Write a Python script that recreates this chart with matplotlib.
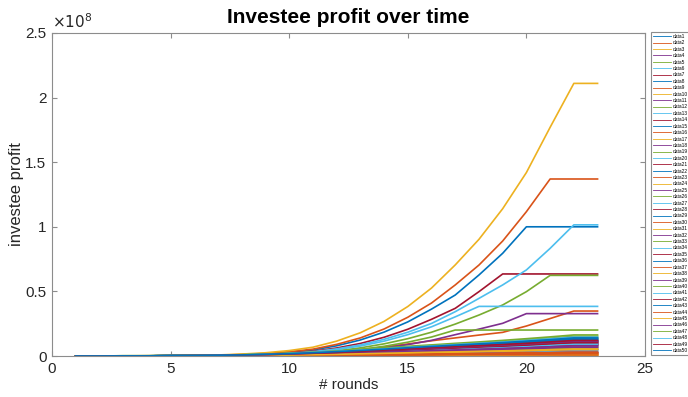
import matplotlib
matplotlib.use("Agg")
import matplotlib.pyplot as plt
from matplotlib.ticker import FuncFormatter

plt.rcParams['font.family'] = ['Liberation Sans', 'DejaVu Sans']

# profit per round, in millions
rounds = list(range(1, 24))

d01 = [0, 0, .1, .1, .2, .2, .3, .5, .7, 1.1, 1.5, 2.0, 2.5, 3.1, 3.8, 4.3, 4.9, 5.5, 6.1, 6.7, 7.5, 8.2, 8.2]
d02 = [.01, .02, .03, .05, .08, .13, .2, .4, .7, 1.3, 2.2, 3.5, 5.0, 7.0, 9.3, 11.8, 14.0, 16.2, 18.3, 23.2, 29, 34.8, 34.8]
d03 = [0, 0, 0, 0, 0, 0, 0, 0, 0, .1, .1, .1, .2, .2, .2, .3, .3, .3, .4, .4, .5, .5, .5]
d04 = [.01, .02, .03, .05, .07, .11, .18, .35, .6, 1.0, 1.6, 2.6, 4.1, 6.2, 8.8, 12.1, 16.5, 20.8, 25.3, 32.8, 32.8, 32.8, 32.8]
d05 = [0, 0, .1, .1, .1, .2, .2, .4, .6, .8, 1.1, 1.5, 1.9, 2.4, 2.9, 3.3, 3.7, 4.2, 4.6, 5.1, 5.6, 6.2, 6.2]
d06 = [0, 0, 0, 0, .1, .1, .2, .2, .3, .5, .7, .9, 1.2, 1.4, 1.7, 2.0, 2.3, 2.5, 2.8, 3.1, 3.5, 3.8, 3.8]
d07 = [0, 0, .1, .1, .2, .3, .3, .5, .8, 1.1, 1.5, 2.1, 2.7, 3.3, 4.0, 4.6, 5.2, 5.8, 6.4, 7.1, 7.8, 8.6, 8.6]
d08 = [.03, .06, .08, .14, .22, .35, .55, 1.0, 1.7, 2.9, 4.7, 7.9, 12.4, 18.5, 26.4, 36.3, 47.2, 62.7, 79.5, 100, 100, 100, 100]
d09 = [0, 0, 0, 0, 0, 0, 0, 0, .1, .1, .1, .1, .2, .2, .3, .3, .4, .4, .4, .5, .5, .6, .6]
d10 = [0, 0, 0, 0, 0, 0, 0, .1, .1, .1, .2, .2, .3, .3, .4, .5, .5, .6, .7, .7, .8, .9, .9]
d11 = [0, 0, 0, 0, 0, .1, .1, .1, .2, .3, .4, .5, .7, .8, 1.0, 1.2, 1.3, 1.5, 1.6, 1.8, 2.0, 2.2, 2.2]
d12 = [.01, .02, .03, .06, .09, .14, .22, .4, .7, 1.2, 1.9, 3.2, 5.0, 7.5, 10.7, 14.7, 20.1, 20.1, 20.1, 20.1, 20.1, 20.1, 20.1]
d13 = [0, 0, 0, 0, .1, .1, .2, .3, .4, .6, .9, 1.2, 1.5, 1.8, 2.2, 2.5, 2.9, 3.2, 3.6, 3.9, 4.4, 4.8, 4.8]
d14 = [.03, .04, .06, .11, .17, .27, .43, .8, 1.35, 2.3, 3.7, 6.2, 9.7, 14.5, 20.7, 28.4, 36.9, 49.8, 63.5, 63.5, 63.5, 63.5, 63.5]
d15 = [0, 0, .1, .1, .2, .3, .4, .6, .9, 1.3, 1.8, 2.4, 3.0, 3.7, 4.5, 5.2, 5.9, 6.6, 7.3, 8.0, 8.9, 9.8, 9.8]
d16 = [0, 0, 0, 0, 0, 0, 0, .1, .1, .1, .2, .2, .3, .4, .5, .5, .6, .7, .7, .8, .9, 1.0, 1.0]
d17 = [0, 0, 0, 0, 0, 0, .1, .1, .1, .2, .3, .3, .4, .5, .6, .7, .8, .9, 1.0, 1.1, 1.3, 1.4, 1.4]
d18 = [0, 0, .1, .1, .1, .2, .2, .3, .5, .7, .9, 1.2, 1.6, 1.9, 2.3, 2.7, 3.0, 3.4, 3.7, 4.1, 4.6, 5.0, 5.0]
d19 = [0, 0, .1, .1, .1, .2, .3, .4, .6, .9, 1.3, 1.7, 2.2, 2.7, 3.2, 3.7, 4.2, 4.7, 5.2, 5.7, 6.4, 7.0, 7.0]
d20 = [.02, .04, .06, .1, .15, .24, .38, .7, 1.2, 2.0, 3.3, 5.5, 8.6, 12.9, 18.4, 25.2, 34.3, 44.6, 55, 66.6, 83.3, 101.5, 101.5]
d21 = [0, 0, .1, .1, .2, .3, .4, .5, .8, 1.2, 1.6, 2.2, 2.8, 3.4, 4.1, 4.8, 5.4, 6.0, 6.7, 7.4, 8.2, 9.0, 9.0]
d22 = [0, 0, .1, .1, .2, .3, .4, .6, 1.0, 1.4, 1.9, 2.6, 3.3, 4.1, 5.0, 5.7, 6.5, 7.2, 8.0, 8.9, 9.8, 10.8, 10.8]
d23 = [.04, .06, .09, .16, .25, .4, .6, 1.2, 2.0, 3.3, 5.3, 9.0, 14, 20.9, 30, 41, 55, 70.4, 89, 111.7, 137, 137, 137]
d24 = [0, 0, 0, 0, 0, .1, .1, .1, .2, .3, .4, .5, .6, .8, .9, 1.1, 1.2, 1.3, 1.5, 1.6, 1.8, 2.0, 2.0]
d25 = [0, 0, 0, 0, .1, .1, .1, .2, .3, .4, .5, .7, .9, 1.1, 1.3, 1.5, 1.7, 1.9, 2.1, 2.3, 2.5, 2.8, 2.8]
d26 = [0, 0, .1, .1, .3, .4, .6, .8, 1.2, 1.8, 2.5, 3.3, 4.3, 5.2, 6.3, 7.3, 8.3, 9.2, 10.2, 11.3, 12.6, 13.8, 13.8]
d27 = [0, 0, .1, .1, .2, .4, .5, .7, 1.1, 1.6, 2.2, 2.9, 3.8, 4.6, 5.6, 6.5, 7.3, 8.2, 9.0, 10.0, 11.1, 12.2, 12.2]
d28 = [0, 0, .1, .1, .2, .3, .4, .6, .9, 1.2, 1.7, 2.3, 3.0, 3.6, 4.4, 5.1, 5.8, 6.4, 7.1, 7.9, 8.7, 9.6, 9.6]
d29 = [0, 0, .1, .1, .2, .4, .5, .7, 1.1, 1.5, 2.1, 2.8, 3.7, 4.5, 5.4, 6.3, 7.1, 7.9, 8.7, 9.7, 10.7, 11.8, 11.8]
d30 = [0, 0, 0, 0, 0, 0, .1, .1, .1, .2, .3, .4, .5, .6, .7, .8, 1.0, 1.1, 1.2, 1.3, 1.5, 1.6, 1.6]
d31 = [0, 0, .1, .1, .1, .2, .2, .3, .5, .7, .9, 1.2, 1.6, 1.9, 2.3, 2.7, 3.0, 3.4, 3.7, 4.1, 4.6, 5.0, 5.0]
d32 = [0, 0, .1, .1, .1, .2, .3, .4, .6, .9, 1.2, 1.6, 2.1, 2.6, 3.1, 3.6, 4.1, 4.6, 5.0, 5.6, 6.2, 6.8, 6.8]
d33 = [.02, .03, .04, .07, .11, .18, .28, .5, .9, 1.5, 2.4, 4.0, 6.3, 9.4, 13.4, 18.4, 24.7, 31.7, 39.5, 49.8, 62.4, 62.4, 62.4]
d34 = [0, 0, .1, .1, .2, .3, .4, .6, .8, 1.2, 1.7, 2.2, 2.9, 3.5, 4.2, 4.9, 5.5, 6.2, 6.8, 7.5, 8.4, 9.2, 9.2]
d35 = [0, 0, .1, .1, .2, .3, .4, .6, .9, 1.4, 1.9, 2.5, 3.2, 4.0, 4.8, 5.5, 6.2, 7.0, 7.7, 8.5, 9.5, 10.4, 10.4]
d36 = [0, 0, .1, .1, .3, .4, .5, .8, 1.1, 1.6, 2.3, 3.0, 3.9, 4.8, 5.8, 6.7, 7.6, 8.4, 9.3, 10.3, 11.5, 12.6, 12.6]
d37 = [0, 0, 0, 0, 0, .1, .1, .1, .2, .3, .4, .6, .7, .9, 1.1, 1.3, 1.4, 1.6, 1.8, 2.0, 2.2, 2.4, 2.4]
d38 = [.05, .08, .12, .2, .32, .5, .8, 1.5, 2.5, 4.2, 6.8, 11.5, 18, 26.8, 38.3, 52.6, 70.5, 90.3, 114, 142, 177, 211, 211]
d39 = [0, 0, .1, .1, .2, .2, .3, .5, .7, 1.0, 1.4, 1.9, 2.4, 3.0, 3.6, 4.1, 4.7, 5.2, 5.8, 6.4, 7.1, 7.8, 7.8]
d40 = [0, 0, .2, .2, .3, .5, .6, .9, 1.4, 2.0, 2.7, 3.6, 4.7, 5.8, 7.0, 8.1, 9.1, 10.2, 11.2, 12.5, 13.8, 15.2, 15.2]
d41 = [.02, .03, .05, .09, .14, .22, .34, .65, 1.1, 1.8, 2.9, 4.9, 7.7, 11.5, 16.5, 22.6, 30.3, 38.4, 38.4, 38.4, 38.4, 38.4, 38.4]
d42 = [0, 0, .1, .1, .2, .3, .4, .7, 1.0, 1.4, 2.0, 2.6, 3.4, 4.2, 5.1, 5.8, 6.6, 7.4, 8.1, 9.0, 10.0, 11.0, 11.0]
d43 = [0, 0, .1, .1, .3, .4, .5, .8, 1.2, 1.7, 2.4, 3.2, 4.1, 5.0, 6.1, 7.0, 7.9, 8.8, 9.8, 10.8, 12.0, 13.2, 13.2]
d44 = [0, 0, 0, 0, .1, .1, .1, .2, .3, .4, .5, .7, .9, 1.1, 1.4, 1.6, 1.8, 2.0, 2.2, 2.5, 2.7, 3.0, 3.0]
d45 = [0, 0, .1, .1, .1, .2, .2, .3, .5, .7, 1.0, 1.3, 1.7, 2.1, 2.5, 2.9, 3.2, 3.6, 4.0, 4.4, 4.9, 5.4, 5.4]
d46 = [0, 0, .1, .1, .2, .3, .5, .7, 1.0, 1.5, 2.1, 2.7, 3.5, 4.3, 5.2, 6.0, 6.8, 7.6, 8.4, 9.3, 10.4, 11.4, 11.4]
d47 = [0, 0, .2, .2, .3, .5, .7, 1.0, 1.5, 2.1, 2.9, 3.9, 5.1, 6.2, 7.5, 8.6, 9.8, 10.9, 12.1, 13.4, 14.8, 16.3, 16.3]
d48 = [0, 0, .1, .1, .3, .4, .6, .9, 1.3, 1.9, 2.6, 3.5, 4.5, 5.5, 6.7, 7.7, 8.8, 9.8, 10.8, 12.0, 13.3, 14.6, 14.6]
d49 = [0, 0, .1, .1, .2, .4, .5, .7, 1.1, 1.6, 2.2, 2.9, 3.7, 4.6, 5.5, 6.4, 7.2, 8.0, 8.9, 9.8, 10.9, 12.0, 12.0]
d50 = [0, 0, .1, .1, .3, .4, .6, .8, 1.3, 1.8, 2.5, 3.4, 4.3, 5.3, 6.4, 7.4, 8.4, 9.4, 10.4, 11.5, 12.7, 14.0, 14.0]

series = [d01, d02, d03, d04, d05, d06, d07, d08, d09, d10,
          d11, d12, d13, d14, d15, d16, d17, d18, d19, d20,
          d21, d22, d23, d24, d25, d26, d27, d28, d29, d30,
          d31, d32, d33, d34, d35, d36, d37, d38, d39, d40,
          d41, d42, d43, d44, d45, d46, d47, d48, d49, d50]

# matlab default line colour order
colors = ['#0072BD', '#D95319', '#EDB120', '#7E2F8E', '#77AC30', '#4DBEEE', '#A2142F']

fig = plt.figure(figsize=(6.88, 3.97), dpi=100)
ax = fig.add_axes([52 / 688, 41 / 397, 593 / 688, 323 / 397])

for i, s in enumerate(series):
    ax.plot(rounds, [v * 1e6 for v in s], color=colors[i % 7], lw=1.2,
            label='data%d' % (i + 1))

ax.set_xlim(0, 25)
ax.set_ylim(0, 2.5e8)
ax.set_xticks([0, 5, 10, 15, 20, 25])
ax.set_yticks([0, 0.5e8, 1e8, 1.5e8, 2e8, 2.5e8])
ax.yaxis.set_major_formatter(FuncFormatter(lambda v, p: '%g' % (v / 1e8)))

gray = '#8c8c8c'
for sp in ax.spines.values():
    sp.set_color(gray)
    sp.set_linewidth(0.8)
ax.tick_params(direction='in', top=True, right=True, length=3.5, width=0.8,
               color=gray, labelsize=11, labelcolor='#262626', pad=4)

ax.text(0.0, 1.005, r'$\times10^{8}$', transform=ax.transAxes, fontsize=11,
        color='#262626', ha='left', va='bottom')
ax.set_title('Investee profit over time', fontsize=15, fontweight='bold', pad=7)
ax.set_xlabel('# rounds', fontsize=11, color='#262626', labelpad=2)
ax.set_ylabel('investee profit', fontsize=12, color='#262626', labelpad=1)

leg = fig.legend(loc='upper left', bbox_to_anchor=(651 / 688, 1 - 32 / 397),
                 fontsize=3.5, handlelength=3.7, handletextpad=0.4,
                 labelspacing=0.29, borderpad=0.4, borderaxespad=0,
                 fancybox=False, edgecolor=gray, framealpha=1)
leg.get_frame().set_linewidth(0.8)
for ln in leg.get_lines():
    ln.set_linewidth(0.6)

fig.savefig('out.png', dpi=100)
